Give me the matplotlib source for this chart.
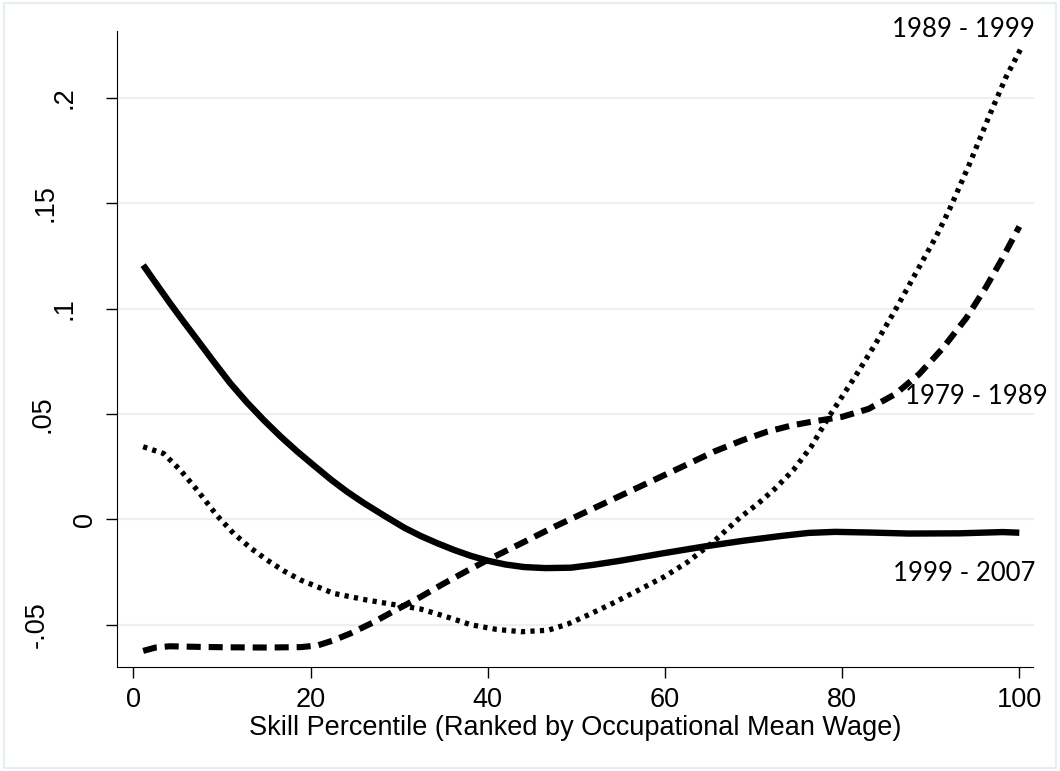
import numpy as np
import matplotlib
matplotlib.use("Agg")
import matplotlib.pyplot as plt
from matplotlib.patches import Rectangle
from matplotlib import transforms

# values
x_9907 = [1.1, 2.6, 4.1, 5.6, 7.2, 9.0, 10.9, 12.8, 14.7, 16.6, 18.5, 20.4, 22.3, 24.1, 26.0, 28.3,
          30.6, 32.4, 34.3, 36.2, 38.1, 40.0, 42.0, 44.1, 46.5, 49.4, 52.0, 55.1, 59.6, 64.5, 68.7,
          73.2, 76.2, 79.2, 83.0, 87.5, 93.2, 98.1, 100.0]
y_9907 = [0.1207, 0.1117, 0.1028, 0.0942, 0.0853, 0.0752, 0.0648, 0.0556, 0.0472, 0.0394, 0.0322,
          0.0255, 0.0189, 0.0132, 0.0078, 0.0018, -0.0040, -0.0078, -0.0113, -0.0145, -0.0173,
          -0.0196, -0.0214, -0.0226, -0.0231, -0.0229, -0.0215, -0.0195, -0.0162, -0.0128, -0.0102,
          -0.0078, -0.0064, -0.0059, -0.0062, -0.0067, -0.0066, -0.0060, -0.0063]

x_7989 = [1.1, 2.5, 4.1, 7.5, 11.0, 15.1, 18.9, 20.8, 22.5, 24.5, 27.0, 29.4, 32.4, 35.0, 37.7,
          40.0, 43.8, 47.5, 51.3, 55.1, 58.9, 62.6, 65.6, 68.7, 71.5, 74.3, 76.6, 80.0, 83.0, 86.0,
          88.7, 91.3, 94.0, 96.2, 98.1, 100.0]
y_7989 = [-0.0624, -0.0608, -0.0602, -0.0605, -0.0607, -0.0608, -0.0606, -0.0598, -0.0575, -0.0541,
          -0.0490, -0.0435, -0.0368, -0.0305, -0.0243, -0.0192, -0.0113, -0.0035, 0.0040, 0.0115,
          0.0190, 0.0263, 0.0323, 0.0375, 0.0416, 0.0446, 0.0464, 0.0487, 0.0525, 0.0595, 0.0690,
          0.0810, 0.0955, 0.1100, 0.1240, 0.1390]

x_8999 = [1.1, 3.4, 5.3, 7.2, 9.4, 11.3, 13.2, 15.1, 17.0, 18.9, 22.6, 26.4, 29.8, 32.4, 35.2,
          38.1, 41.0, 43.8, 46.8, 49.0, 51.3, 54.0, 57.0, 60.0, 62.6, 65.5, 68.5, 70.5, 72.4, 74.5,
          76.5, 78.5, 81.5, 83.8, 86.0, 88.3, 90.6, 92.1, 94.3, 96.6, 98.5, 100.2]
y_8999 = [0.0345, 0.0313, 0.0234, 0.0139, 0.0020, -0.0066, -0.0135, -0.0193, -0.0245, -0.0288,
          -0.0351, -0.0383, -0.0407, -0.0425, -0.0460, -0.0500, -0.0522, -0.0533, -0.0526, -0.0497,
          -0.0454, -0.0400, -0.0336, -0.0270, -0.0201, -0.0105, 0.0010, 0.0075, 0.0145, 0.0235,
          0.0345, 0.0487, 0.0680, 0.0836, 0.0994, 0.1168, 0.1342, 0.1470, 0.1680, 0.1915, 0.2100,
          0.2236]

yticks = [-0.05, 0, 0.05, 0.1, 0.15, 0.2]
ytick_labels = ["-.05", "0", ".05", ".1", ".15", ".2"]
xticks = [0, 20, 40, 60, 80, 100]
labels = ["1979 - 1989", "1989 - 1999", "1999 - 2007"]

W, H = 1060, 771
fig = plt.figure(figsize=(W / 100, H / 100), dpi=100)
fig.patches.append(Rectangle((0.004, 0.004), 0.992, 0.992, transform=fig.transFigure,
                             fill=False, edgecolor="#e6eeef", lw=1.5))
ax = fig.add_axes([0.110, 0.135, 0.865, 0.825])

for v in yticks:
    ax.axhline(v, color="#eaf1f3", lw=1.6, zorder=0)

ax.plot(x_9907, y_9907, color="black", lw=4.6, solid_capstyle="butt", solid_joinstyle="round")
ax.plot(x_7989, y_7989, color="black", lw=4.4, dashes=(2.3, 1.3))
ax.plot(x_8999, y_8999, color="black", lw=3.8, dashes=(0.8, 1.0))

ax.set_xlim(-1.9, 101.6)
ax.set_ylim(-0.070, 0.2319)
ax.set_xticks(xticks)
ax.set_yticks(yticks)
ax.set_yticklabels([])
for s in ["top", "right"]:
    ax.spines[s].set_visible(False)
ax.tick_params(axis="both", length=8, width=1, labelsize=19.5, pad=6.5)
for t in ax.get_xticklabels():
    t.set_family("Liberation Sans")
ax.set_xlabel("Skill Percentile (Ranked by Occupational Mean Wage)", fontsize=19.5,
              family="Liberation Sans", labelpad=1.5)

# stata-style rotated y labels, each sits at its own distance from the axis
ylab_px = [36.5, 85, 42.5, 65, 45.5, 65]
tr = transforms.blended_transform_factory(fig.transFigure, ax.transData)
for v, s, px in zip(yticks, ytick_labels, ylab_px):
    ax.text(px / W, v, s, transform=tr, rotation=90, ha="center", va="center",
            fontsize=19.5, family="Liberation Sans")

tfont = dict(family="Lato", fontsize=18.5, ha="right", va="center", clip_on=False)
ax.text(103.2, 0.0582, labels[0], **tfont)
ax.text(101.8, 0.2323, labels[1], **tfont)
ax.text(101.8, -0.0255, labels[2], **tfont)

fig.savefig("out.png", dpi=100)
